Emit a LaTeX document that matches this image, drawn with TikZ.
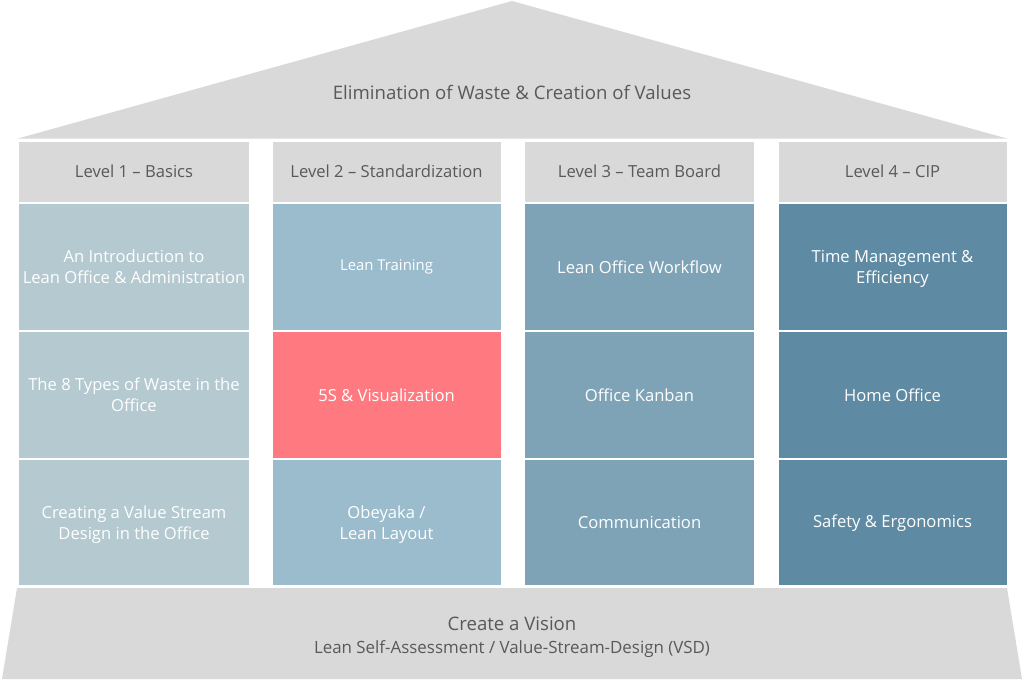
\documentclass[tikz,border=0pt]{standalone}
\usepackage{fontspec}
\setmainfont{Open Sans}
\definecolor{roofgray}{RGB}{217,217,217}
\definecolor{txtgray}{RGB}{89,89,89}
\definecolor{colA}{RGB}{180,201,208}
\definecolor{colB}{RGB}{154,188,205}
\definecolor{colC}{RGB}{127,163,182}
\definecolor{colD}{RGB}{94,139,163}
\definecolor{hilite}{RGB}{255,122,128}
\begin{document}
\begin{tikzpicture}[x=1pt,y=-1pt,
  hdr/.style={fill=roofgray,draw=none,minimum width=229pt,minimum height=60pt,inner sep=0pt,text=txtgray,font=\fontsize{16.6}{19}\selectfont,align=center},
  cell/.style={draw=none,minimum width=229pt,minimum height=125.5pt,inner sep=0pt,text=white,font=\fontsize{16.6}{21}\selectfont,align=center},
  smallcell/.style={cell,font=\fontsize{14.9}{18}\selectfont},
  roofshape/.style={fill=roofgray,draw=none}]
\useasboundingbox (0,0) rectangle (1024,680);
% roof
\coordinate (roofL) at (18,138.5);
\coordinate (roofR) at (1007,138.5);
\coordinate (apex) at (512,1);
\fill[roofshape] (roofL) -- (apex) -- (roofR) -- cycle;
\node[text=txtgray,font=\fontsize{18.6}{22}\selectfont] (roof) at (512,92) {Elimination of Waste \& Creation of Values};
% base
\coordinate (bTL) at (17,588);
\coordinate (bTR) at (1007,588);
\coordinate (bBR) at (1022,679);
\coordinate (bBL) at (2,679);
\fill[roofshape] (bTL) -- (bTR) -- (bBR) -- (bBL) -- cycle;
\node[text=txtgray,align=center,font=\fontsize{18.6}{23}\selectfont] (base) at (512,637.5) {Create a Vision\\{\fontsize{16.9}{20}\selectfont Lean Self-Assessment / Value-Stream-Design (VSD)}};
% headers
\node[hdr,minimum width=230pt] (h1) at (134,171.5) {Level 1 – Basics};
\node[hdr,minimum width=228pt] (h2) at (386.5,171.5) {Level 2 – Standardization};
\node[hdr] (h3) at (639.5,171.5) {Level 3 – Team Board};
\node[hdr,minimum width=228pt] (h4) at (892.5,171.5) {Level 4 – CIP};
% column 1
\node[cell,fill=colA,minimum width=230pt] (a1) at (134,267.2) {An Introduction to\\Lean Office \& Administration};
\node[cell,fill=colA,minimum width=230pt] (a2) at (134,394.9) {The 8 Types of Waste in the\\Office};
\node[cell,fill=colA,minimum width=230pt] (a3) at (134,522.7) {};
\node[text=white,align=center,font=\fontsize{16.6}{21}\selectfont] (a3t) at (134,524.7) {Creating a Value Stream\\Design in the Office};
% column 2
\node[smallcell,fill=colB,minimum width=228pt] (b1) at (386.5,267.2) {Lean Training};
\node[cell,fill=hilite,minimum width=228pt] (b2) at (386.5,394.9) {5S \& Visualization};
\node[cell,fill=colB,minimum width=228pt] (b3) at (386.5,522.7) {};
\node[text=white,align=center,font=\fontsize{16.6}{21}\selectfont] (b3t) at (386.5,524.7) {Obeyaka /\\Lean Layout};
% column 3
\node[cell,fill=colC] (c1) at (639.5,267.2) {Lean Office Workflow};
\node[cell,fill=colC] (c2) at (639.5,394.9) {Office Kanban};
\node[cell,fill=colC] (c3) at (639.5,522.7) {Communication};
% column 4
\node[cell,fill=colD,minimum width=228pt] (d1) at (892.5,267.2) {};
\node[text=white,align=center,font=\fontsize{16.6}{21}\selectfont] (d1t) at (892.5,269.2) {Time Management \&\\Efficiency};
\node[cell,fill=colD,minimum width=228pt] (d2) at (892.5,394.9) {Home Office};
\node[cell,fill=colD,minimum width=228pt] (d3) at (892.5,522.7) {Safety \& Ergonomics};
\end{tikzpicture}
\end{document}
